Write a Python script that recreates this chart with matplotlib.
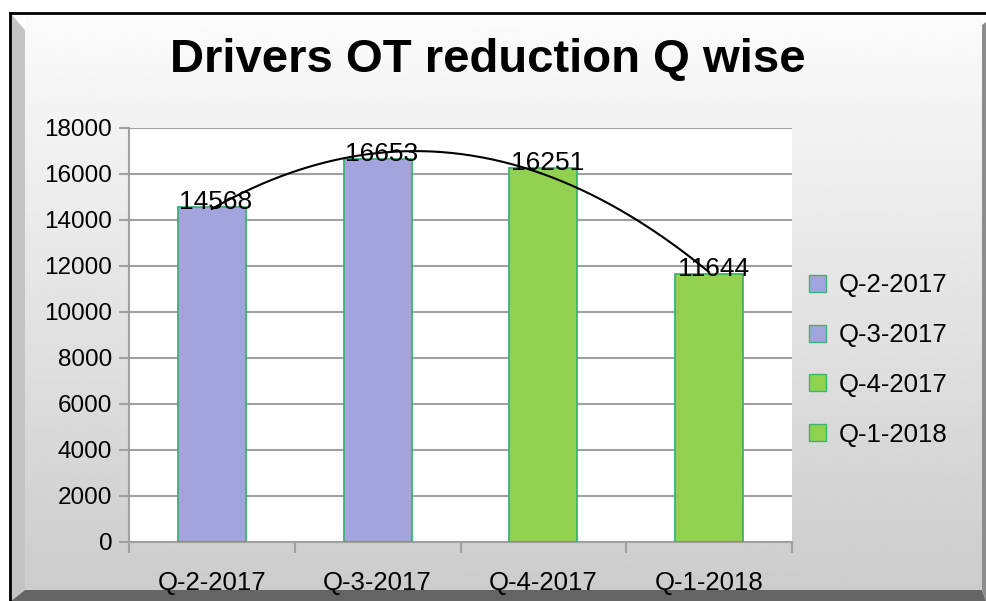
import numpy as np
import matplotlib.pyplot as plt
from matplotlib.patches import Polygon, Patch

plt.rcParams['font.family'] = ['Liberation Sans', 'DejaVu Sans']

# data
quarters = ['Q-2-2017', 'Q-3-2017', 'Q-4-2017', 'Q-1-2018']
ot_hours = [14568, 16653, 16251, 11644]
bar_colors = ['#a3a3de', '#a3a3de', '#92d050', '#92d050']
y_ticks = [0, 2000, 4000, 6000, 8000, 10000, 12000, 14000, 16000, 18000]

W, H = 986, 601
fig = plt.figure(figsize=(W / 100, H / 100), dpi=100, facecolor='white')

# frame / background in pixel coords
bg = fig.add_axes([0, 0, 1, 1])
bg.set_xlim(0, W)
bg.set_ylim(H, 0)
bg.axis('off')
grad = np.linspace(0.985, 0.80, 256).reshape(-1, 1)
bg.imshow(grad, cmap='gray', vmin=0, vmax=1, aspect='auto',
          extent=(25, 982, 590, 14), zorder=0)
bg.add_patch(Polygon([(11, 14), (25, 30), (25, 590), (11, 601)],
                     closed=True, fc='#c4c4c4', ec='none', zorder=1))
bg.add_patch(Polygon([(11, 601), (25, 590), (982, 590), (986, 601)],
                     closed=True, fc='#646464', ec='none', zorder=1))
bg.add_patch(Polygon([(982, 25), (986, 22), (986, 601), (982, 590)],
                     closed=True, fc='#8c8c8c', ec='none', zorder=1))
bg.plot([10, 986], [13, 13], color='black', lw=2, zorder=2)
bg.plot([10, 10], [13, 601], color='black', lw=2, zorder=2)

# chart area
ax = fig.add_axes([129 / W, 1 - 542 / H, (792 - 129) / W, (542 - 128) / H])
ax.set_facecolor('white')
x = np.arange(len(quarters))
ax.bar(x, ot_hours, width=0.41, color=bar_colors,
       edgecolor='#3cb371', linewidth=1.3, zorder=3)
for xi, v in zip(x, ot_hours):
    ax.annotate(str(v), (xi, v), xytext=(3, -5), textcoords='offset points',
                ha='center', va='bottom', fontsize=19, zorder=5)

# polynomial (order 2) trendline
coef = np.polyfit(x, ot_hours, 2)
xs = np.linspace(x[0], x[-1], 200)
ax.plot(xs, np.polyval(coef, xs), color='black', lw=1.5, zorder=4)

ax.set_xlim(-0.5, len(quarters) - 0.5)
ax.set_ylim(0, 18000)
ax.set_yticks(y_ticks)
ax.set_yticklabels([str(t) for t in y_ticks], fontsize=17.5)
ax.yaxis.grid(True, color='#a0a0a0', lw=1.5, zorder=0)
ax.set_axisbelow(True)
ax.set_xticks(x)
ax.set_xticklabels(quarters, fontsize=18.5)
ax.set_xticks(np.arange(len(quarters) + 1) - 0.5, minor=True)
ax.tick_params(axis='x', which='major', length=0, pad=21)
ax.tick_params(axis='x', which='minor', length=8, color='#a0a0a0', width=1.5)
ax.tick_params(axis='y', length=7, color='#a0a0a0', width=1.5, pad=5)
for s in ['top', 'right']:
    ax.spines[s].set_visible(False)
for s in ['left', 'bottom']:
    ax.spines[s].set_color('#a0a0a0')
    ax.spines[s].set_linewidth(1.5)

handles = [Patch(facecolor=c, edgecolor='#3cb371') for c in bar_colors]
fig.legend(handles, quarters, loc='center left',
           bbox_to_anchor=(809 / W, 1 - 360 / H), frameon=False,
           fontsize=18.5, handlelength=0.65, handleheight=0.65,
           handletextpad=0.5, labelspacing=1.0, borderpad=0,
           borderaxespad=0)

fig.text(488 / W, 1 - 60 / H, 'Drivers OT reduction Q wise',
         ha='center', va='center', fontsize=34, fontweight='bold')

fig.savefig('out.png', dpi=100)
